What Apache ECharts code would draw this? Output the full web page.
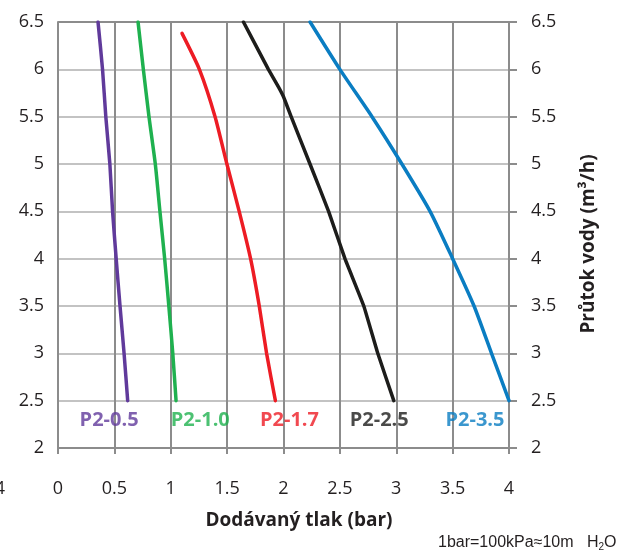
<!DOCTYPE html>
<html><head><meta charset="utf-8">
<script src="https://cdn.jsdelivr.net/npm/echarts@6/dist/echarts.min.js"></script>
<style>html,body{margin:0;padding:0;background:#fff}#c{width:622px;height:553px}</style>
</head><body><div id="c"></div>
<script>
// Data: flow (m3/h) vs supplied pressure (bar)
const flowPurple = [6.5, 6.0, 5.5, 5.0, 4.5, 4.0, 3.5, 3.0, 2.5];
const presPurple = [0.355, 0.395, 0.424, 0.46, 0.484, 0.516, 0.55, 0.586, 0.618];
const flowGreen = [6.5, 6.0, 5.5, 5.0, 4.5, 4.0, 3.5, 3.0, 2.5];
const presGreen = [0.71, 0.757, 0.807, 0.863, 0.904, 0.946, 0.983, 1.018, 1.047];
const flowRed = [6.38, 6.0, 5.5, 5.0, 4.5, 4.0, 3.5, 3.0, 2.5];
const presRed = [1.1, 1.254, 1.393, 1.498, 1.607, 1.708, 1.785, 1.85, 1.928];
const flowBlack = [6.5, 6.0, 5.815, 5.71, 5.5, 5.0, 4.5, 4.0, 3.5, 3.0, 2.5];
const presBlack = [1.645, 1.866, 1.955, 2.0, 2.068, 2.235, 2.40, 2.545, 2.712, 2.836, 2.978];
const flowBlue = [6.5, 6.0, 5.5, 5.0, 4.5, 4.0, 3.5, 3.0, 2.5];
const presBlue = [2.236, 2.50, 2.785, 3.05, 3.30, 3.50, 3.69, 3.845, 4.0];

const seriesNames = ['P2-0.5', 'P2-1.0', 'P2-1.7', 'P2-2.5', 'P2-3.5'];
const labelPres = [0.453, 1.262, 2.053, 2.849, 3.698];
const labelFlow = [2.296, 2.296, 2.296, 2.296, 2.296];

const colors = ['#603a9b', '#1fb14f', '#ed1c24', '#1d1d1b', '#0a7dc2'];
const dark = '#8c8c8c', light = '#c3c3c3', txt = '#231f20';
const font = '"Open Sans", "Noto Sans", sans-serif';

const pairs = [[presPurple, flowPurple], [presGreen, flowGreen], [presRed, flowRed], [presBlack, flowBlack], [presBlue, flowBlue]];
const zip = (xs, ys) => xs.map((x, i) => [x, ys[i]]);

const lineSeries = pairs.map((p, i) => ({
  type: 'line', name: seriesNames[i], data: zip(p[0], p[1]),
  showSymbol: false, symbol: 'none', smooth: i === 3 ? 0.1 : 0.2,
  lineStyle: { color: colors[i], width: 3.5, cap: 'round', join: 'round' },
  z: 5, silent: true
}));

const labelSeries = {
  type: 'scatter', symbolSize: 0, silent: true, z: 6,
  data: labelPres.map((x, i) => ({
    value: [x, labelFlow[i]], name: seriesNames[i],
    label: { show: true, position: 'inside', formatter: seriesNames[i], color: colors[i],
      fontFamily: font, fontWeight: 'bold', fontSize: 20 }
  }))
};

const ySplitColors = [light, light, light, light, light, light, light, light, light, dark];

const option = {
  animation: false,
  backgroundColor: '#fff',
  grid: { left: 58, right: 113, top: 22, bottom: 105 },
  xAxis: {
    type: 'value', min: 0, max: 4, interval: 0.5,
    axisLine: { show: true, onZero: false, lineStyle: { color: dark, width: 2 } },
    axisTick: { show: true, inside: false, length: 6, lineStyle: { color: dark, width: 2 } },
    axisLabel: { margin: 32, color: txt, fontFamily: font, fontSize: 18 },
    splitLine: { show: true, lineStyle: { color: dark, width: 2 } }
  },
  yAxis: [{
    type: 'value', min: 2, max: 6.5, interval: 0.5, position: 'left',
    axisLine: { show: true, onZero: false, lineStyle: { color: dark, width: 2 } },
    axisTick: { show: false },
    axisLabel: { margin: 14, color: txt, fontFamily: font, fontSize: 18 },
    splitLine: { show: true, lineStyle: { color: ySplitColors, width: 2 } }
  }, {
    type: 'value', min: 2, max: 6.5, interval: 0.5, position: 'right',
    axisLine: { show: true, onZero: false, lineStyle: { color: dark, width: 2 } },
    axisTick: { show: true, length: 8, lineStyle: { color: dark, width: 2 } },
    axisLabel: { margin: 22, color: txt, fontFamily: font, fontSize: 18 },
    splitLine: { show: false }
  }],
  series: [...lineSeries, labelSeries],
  graphic: [
    { type: 'text', x: 299, y: 521, silent: true,
      style: { text: 'Dodávaný tlak (bar)', fill: txt, font: 'bold 19px ' + font, align: 'center', verticalAlign: 'middle' } },
    { type: 'text', x: 589, y: 244, rotation: Math.PI / 2, silent: true,
      style: { text: 'Průtok vody (m³/h)', fill: txt, font: 'bold 19px ' + font, align: 'center', verticalAlign: 'middle' } },
    { type: 'text', x: 5, y: 489, silent: true,
      style: { text: '4', fill: txt, font: '18px ' + font, align: 'right', verticalAlign: 'middle' } },
    { type: 'text', x: 438, y: 543, silent: true,
      style: { text: '{a|1bar=100kPa≈10m   H}{s|2}{a|O}', verticalAlign: 'middle',
        rich: {
          a: { fontFamily: '"Liberation Sans", Arial, sans-serif', fontSize: 16, fill: txt, color: txt },
          s: { fontFamily: '"Liberation Sans", Arial, sans-serif', fontSize: 10, fill: txt, color: txt, padding: [9, 0, 0, 0] }
        } } }
  ]
};

echarts.init(document.getElementById('c'), null, { renderer: 'canvas' }).setOption(option);
</script>
</body></html>
